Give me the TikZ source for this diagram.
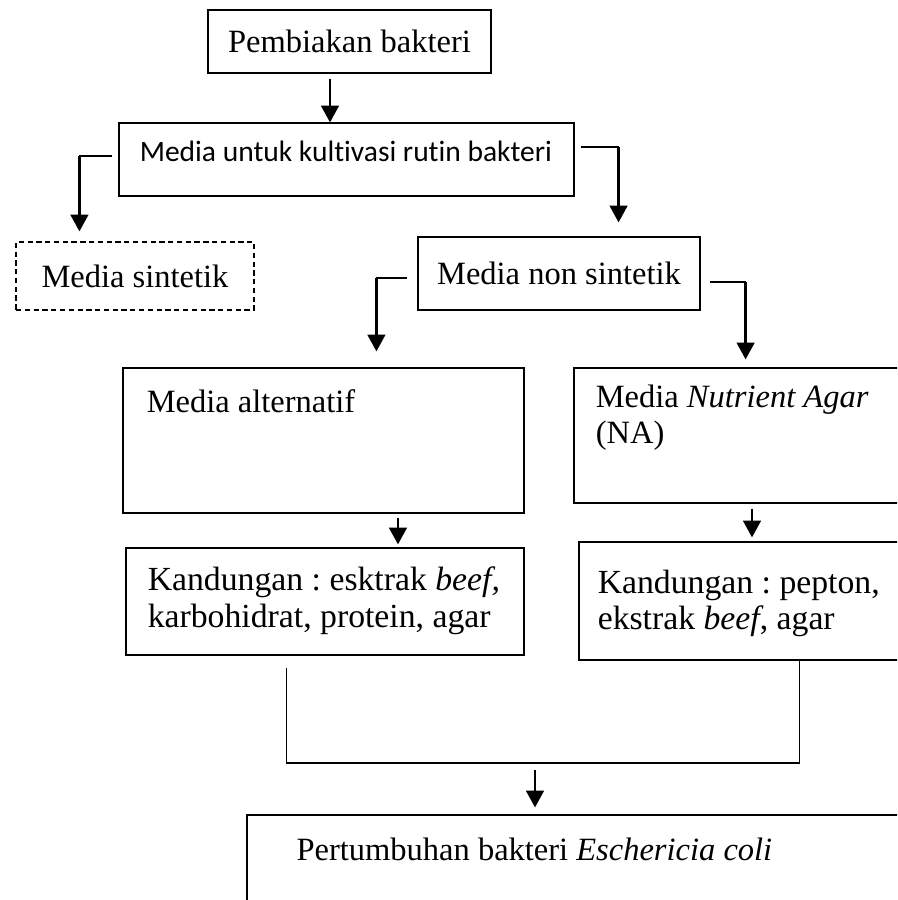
\documentclass[tikz,border=0pt]{standalone}
\usepackage{fontspec}
\setmainfont{Liberation Serif}
\newfontfamily\calibri[Ligatures=NoCommon]{Carlito}
\usetikzlibrary{arrows.meta}
\usetikzlibrary{calc}
\frenchspacing

\tikzset{
  kotak/.style={draw, line width=0.7pt, rectangle, inner sep=0pt},
  teks/.style={inner sep=0pt, anchor=west, align=left, font=\fontsize{18.5}{20.5}\selectfont},
  isi/.style={teks, font=\fontsize{19.2}{21}\selectfont},
  panah/.style={line width=1.4pt, -{Triangle[width=10pt,length=9.5pt]}},
  garis/.style={line width=0.7pt},
}

\begin{document}
\begin{tikzpicture}[x=0.02cm, y=-0.02cm]
\useasboundingbox (0,0) rectangle (897,900);
\clip (0,0) rectangle (897,900);

% kotak-kotak
\node[kotak, line width=1.2pt, minimum width=5.66cm, minimum height=1.26cm, font=\fontsize{18.5}{20.5}\selectfont] (pemb) at (349.5,41.5) {Pembiakan bakteri};
\node[kotak, minimum width=9.1cm, minimum height=1.46cm] (kultur) at (346.5,159.5) {};
\node[kotak, dash pattern=on 3pt off 2pt, minimum width=4.76cm, minimum height=1.36cm, font=\fontsize{18.5}{20.5}\selectfont] (sint) at (135,276) {Media sintetik};
\node[kotak, minimum width=5.64cm, minimum height=1.46cm, font=\fontsize{18.5}{20.5}\selectfont] (nonsint) at (559,273.5) {Media non sintetik};
\node[kotak, minimum width=8.02cm, minimum height=2.9cm] (alt) at (323.5,440.5) {};
\node[kotak, minimum width=7.12cm, minimum height=2.7cm] (na) at (752,435.5) {};
\node[kotak, minimum width=7.96cm, minimum height=2.14cm] (kandL) at (325,601.5) {};
\node[kotak, minimum width=7.02cm, minimum height=2.36cm] (kandR) at (754.5,601) {};
\node[kotak, minimum width=13.66cm, minimum height=2.9cm] (res) at (588.5,887.5) {};

% teks
\node[teks, font=\calibri\fontsize{16.8}{20}\selectfont] (kulturT) at ([xshift=0.42cm,yshift=-0.58cm]kultur.north west) {Media untuk kultivasi rutin bakteri};
\node[teks] (altT) at ([xshift=0.48cm,yshift=-0.68cm]alt.north west) {Media alternatif};
\node[teks] (naT) at ([xshift=0.44cm,yshift=-1.0cm]na.north west) {Media \textit{Nutrient Agar}\\(NA)};
\node[isi] (kandLT) at ([xshift=0.44cm,yshift=-1.06cm]kandL.north west) {Kandungan : esktrak \textit{beef,}\\karbohidrat, protein, agar};
\node[isi] (kandRT) at ([xshift=0.38cm,yshift=-1.24cm]kandR.north west) {Kandungan : pepton,\\ekstrak \textit{beef}, agar};
\node[teks, anchor=center] (resT) at ([xshift=5.76cm,yshift=-0.7cm]res.north west) {Pertumbuhan bakteri \textit{Eschericia coli}};

% panah
\draw[panah, shorten <=2.8pt] ([xshift=-0.39cm]pemb.south) -- ([xshift=-0.39cm]pemb.south |- kultur.north);
\draw[garis] ([xshift=-0.12cm,yshift=0.07cm]kultur.west) -- ++(-33,0) coordinate (k1);
\draw[panah, shorten >=0.2cm] (k1) -- (k1 |- sint.north);
\draw[garis] ([xshift=0.12cm,yshift=0.25cm]kultur.east) -- ++(38,0) coordinate (k2);
\draw[panah, shorten >=0.28cm] (k2) -- (k2 |- nonsint.north);
\draw[garis] ([xshift=-0.2cm,yshift=-0.09cm]nonsint.west) -- ++(-31,0) coordinate (n1);
\draw[panah, shorten >=0.32cm] (n1) -- (n1 |- alt.north);
\draw[garis] ([xshift=0.18cm,yshift=-0.17cm]nonsint.east) -- ++(36,0) coordinate (n2);
\draw[panah, shorten >=0.16cm] (n2) -- (n2 |- na.north);
\draw[panah, shorten <=0.08cm, shorten >=0.06cm] ([xshift=1.49cm]alt.south) -- ([xshift=1.49cm]alt.south |- kandL.north);
\draw[panah, shorten <=0.1cm, shorten >=0.08cm] (na.south) -- (na.south |- kandR.north);

% gabungan
\coordinate (jn) at (535,763);
\draw[garis] ([xshift=3.22cm,yshift=-0.24cm]kandL.south west) |- (jn) -| ([xshift=4.42cm]kandR.south west);
\draw[panah, shorten <=0.14cm, shorten >=0.14cm] (jn) -- (jn |- res.north);

\end{tikzpicture}
\end{document}
